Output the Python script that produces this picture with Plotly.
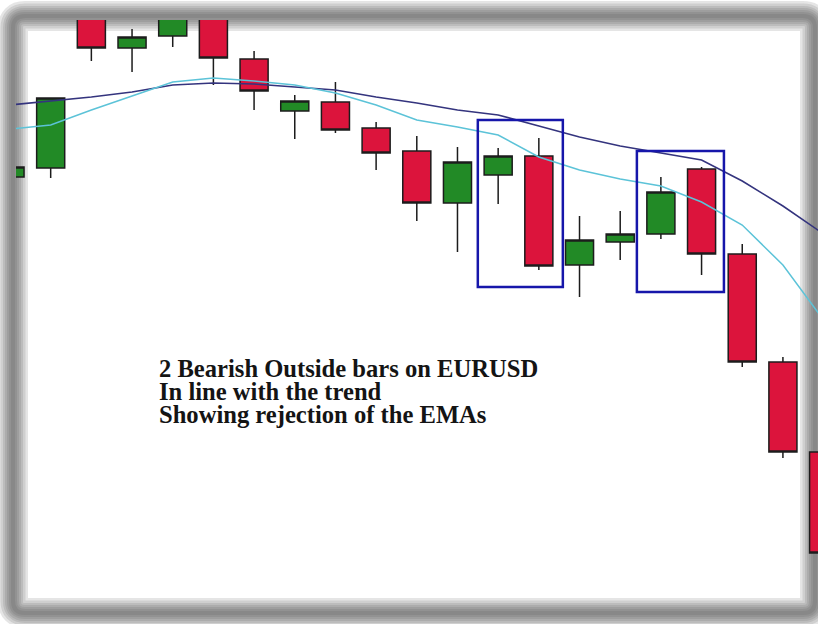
import plotly.graph_objects as go

# ---- price data (EURUSD, one bar per index) ----
bar_index = list(range(21))
open_px = [1.33615, 1.33660, 1.34490, 1.34260, 1.34320, 1.34460, 1.34205, 1.33945, 1.33990, 1.33860,
           1.33745, 1.33485, 1.33625, 1.33720, 1.33175, 1.33290, 1.33330, 1.33655, 1.33230, 1.32690, 1.32240]
high_px = [1.33700, 1.34010, 1.34525, 1.34355, 1.34480, 1.34490, 1.34245, 1.34025, 1.34090, 1.33890,
           1.33820, 1.33765, 1.33760, 1.33810, 1.33420, 1.33445, 1.33615, 1.33665, 1.33280, 1.32715, 1.32260]
low_px = [1.33590, 1.33610, 1.34195, 1.34140, 1.34265, 1.34075, 1.33950, 1.33805, 1.33835, 1.33650,
          1.33395, 1.33240, 1.33480, 1.33150, 1.33015, 1.33200, 1.33305, 1.33125, 1.32665, 1.32210, 1.31700]
close_px = [1.33665, 1.34010, 1.34260, 1.34315, 1.34450, 1.34210, 1.34045, 1.33995, 1.33850, 1.33735,
            1.33485, 1.33690, 1.33720, 1.33170, 1.33300, 1.33330, 1.33540, 1.33230, 1.32690, 1.32240, 1.31735]

# moving averages
ema_slow = [1.33975, 1.33995, 1.34015, 1.34040, 1.34075, 1.34085, 1.34080, 1.34065, 1.34050, 1.34015,
            1.33985, 1.33950, 1.33925, 1.33870, 1.33815, 1.33770, 1.33735, 1.33700, 1.33595, 1.33470, 1.33330]
ema_fast = [1.33855, 1.33875, 1.33950, 1.34020, 1.34090, 1.34110, 1.34095, 1.34075, 1.34035, 1.33975,
            1.33900, 1.33865, 1.33825, 1.33715, 1.33650, 1.33605, 1.33570, 1.33490, 1.33375, 1.33175, 1.32900]

# highlighted outside-bar setups
box_x0 = [11.50, 15.41]
box_x1 = [13.59, 17.55]
box_top = [1.33900, 1.33745]
box_bottom = [1.33065, 1.33040]

note_lines = ["2 Bearish Outside bars on EURUSD",
              "In line with the trend",
              "Showing rejection of the EMAs"]

W, H = 818, 624
ML, MT = 16, 20


def fx(px):
    return (px - ML) / (W - ML)


def fy(py):
    return (H - py) / (H - MT)


fig = go.Figure()

fig.add_trace(go.Candlestick(
    x=bar_index, open=open_px, high=high_px, low=low_px, close=close_px,
    increasing=dict(line=dict(color="#1c1c1c", width=1.5), fillcolor="#228a26"),
    decreasing=dict(line=dict(color="#1c1c1c", width=1.5), fillcolor="#dc143c"),
    whiskerwidth=0, hoverinfo="skip", showlegend=False,
))

fig.add_trace(go.Scatter(x=bar_index, y=ema_slow, mode="lines",
                         line=dict(color="#34347e", width=1.6),
                         hoverinfo="skip", showlegend=False))
fig.add_trace(go.Scatter(x=bar_index, y=ema_fast, mode="lines",
                         line=dict(color="#5cc3d8", width=1.5),
                         hoverinfo="skip", showlegend=False))

shapes = []

# soft grey frame: stacked translucent outlines give a blurred edge
fl, ft, fr, fb = 13, 16, 815, 613
r = 12
frame_path = (
    f"M {fx(fl + r)},{fy(ft)} L {fx(fr - r)},{fy(ft)} "
    f"Q {fx(fr)},{fy(ft)} {fx(fr)},{fy(ft + r)} "
    f"L {fx(fr)},{fy(fb - r)} Q {fx(fr)},{fy(fb)} {fx(fr - r)},{fy(fb)} "
    f"L {fx(fl + r)},{fy(fb)} Q {fx(fl)},{fy(fb)} {fx(fl)},{fy(fb - r)} "
    f"L {fx(fl)},{fy(ft + r)} Q {fx(fl)},{fy(ft)} {fx(fl + r)},{fy(ft)} Z"
)
for w in [30, 25, 20, 16, 12, 8, 4]:
    shapes.append(dict(type="path", path=frame_path, xref="paper", yref="paper",
                       line=dict(color="rgba(80,80,80,0.15)", width=w),
                       fillcolor="rgba(0,0,0,0)", layer="below"))

for x0, x1, y0, y1 in zip(box_x0, box_x1, box_bottom, box_top):
    shapes.append(dict(type="rect", xref="x", yref="y", x0=x0, x1=x1, y0=y0, y1=y1,
                       line=dict(color="#1616aa", width=2.5), fillcolor="rgba(0,0,0,0)"))

annotations = []
for i, txt in enumerate(note_lines):
    annotations.append(dict(
        text=txt, xref="paper", yref="paper", x=fx(158), y=fy(368 + 23.3 * i),
        xanchor="left", yanchor="middle", showarrow=False, align="left", borderpad=0,
        font=dict(family="Liberation Serif", size=24.6, color="#141414", weight="bold"),
    ))

fig.update_layout(
    width=W, height=H,
    margin=dict(l=ML, r=0, t=MT, b=0, pad=0),
    paper_bgcolor="white", plot_bgcolor="rgba(0,0,0,0)",
    shapes=shapes, annotations=annotations,
    showlegend=False, boxgap=0.31, boxgroupgap=0,
    xaxis=dict(range=[(16 - 10) / 40.68, (818 - 10) / 40.68], showgrid=False, zeroline=False,
               showticklabels=False, showline=False, ticks="", rangeslider=dict(visible=False),
               fixedrange=True),
    yaxis=dict(range=[1.34500 - 0.00005 * 624, 1.34500 - 0.00005 * 20], showgrid=False,
               zeroline=False, showticklabels=False, showline=False, ticks="", fixedrange=True),
)

fig.write_html("out.html", config={"displayModeBar": False})
